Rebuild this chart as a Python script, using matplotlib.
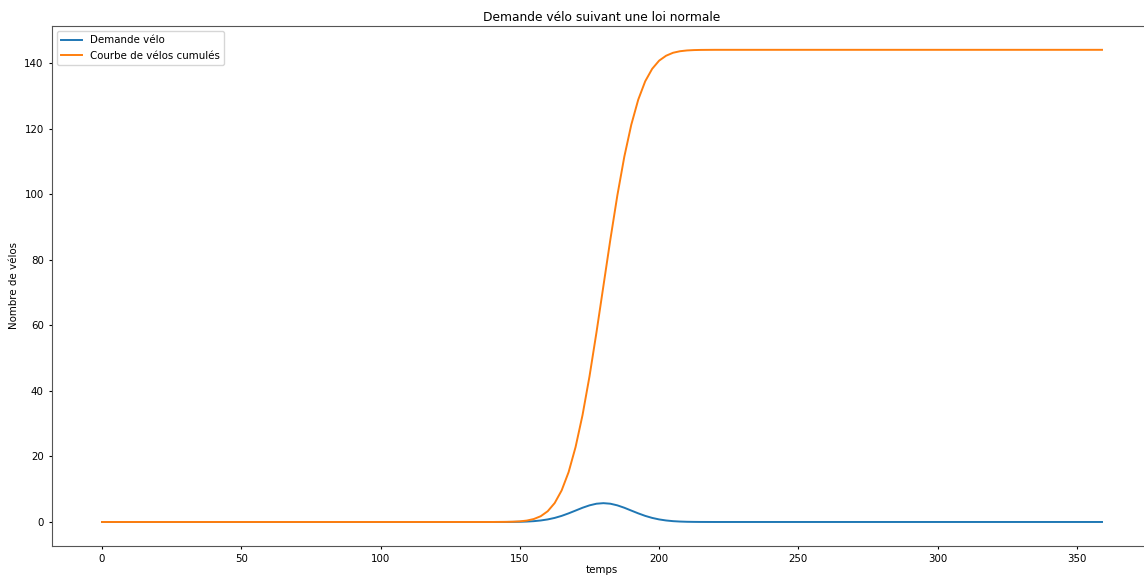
import matplotlib.pyplot as plt

# temps (x) and values
temps = [0, 140, 145, 147.5, 150, 152.5, 155, 157.5, 160, 162.5, 165, 167.5, 170, 172.5,
         175, 177.5, 180, 182.5, 185, 187.5, 190, 192.5, 195, 197.5, 200, 202.5, 205,
         207.5, 210, 212.5, 215, 220, 359]

demande = [0, 0, 0.01, 0.03, 0.06, 0.13, 0.25, 0.46, 0.78, 1.24, 1.86, 2.63, 3.48, 4.34,
           5.07, 5.57, 5.74, 5.57, 5.07, 4.34, 3.48, 2.63, 1.86, 1.24, 0.78, 0.46, 0.25,
           0.13, 0.06, 0.03, 0.01, 0, 0]

cumul = [0, 0, 0.03, 0.08, 0.19, 0.43, 0.9, 1.76, 3.28, 5.77, 9.62, 15.2, 22.85, 32.6,
         44.4, 57.8, 72, 86.2, 99.6, 111.4, 121.15, 128.8, 134.4, 138.2, 140.7, 142.2, 143.1,
         143.57, 143.81, 143.92, 143.97, 144, 144]

fs = 7.4

fig = plt.figure(figsize=(11.44, 5.76), dpi=100)
ax = fig.add_axes([0.0455, 0.0528, 0.9615, 0.9017])

ax.plot(temps, demande, color='#1f77b4', lw=1.4, label='Demande vélo')
ax.plot(temps, cumul, color='#ff7f0e', lw=1.4, label='Courbe de vélos cumulés')

ax.set_title('Demande vélo suivant une loi normale', fontsize=8.8, pad=4)
ax.set_xlabel('temps', fontsize=fs, labelpad=1)
ax.set_ylabel('Nombre de vélos', fontsize=fs)
ax.tick_params(labelsize=fs, length=2.5)
ax.legend(loc='upper left', fontsize=fs)

for s in ax.spines.values():
    s.set_color('#555555')

fig.savefig('out.png', dpi=100)
